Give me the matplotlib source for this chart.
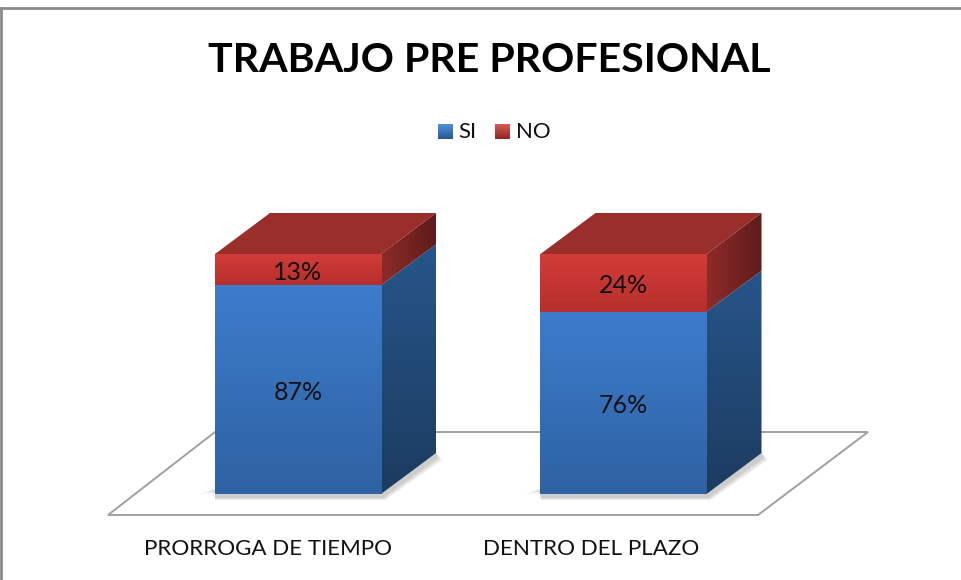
import numpy as np
import matplotlib
matplotlib.use("Agg")
import matplotlib.pyplot as plt
from matplotlib.patches import Polygon
from matplotlib.colors import to_rgb

categories = ["PRORROGA DE TIEMPO", "DENTRO DEL PLAZO"]
si_values = [87, 76]
no_values = [13, 24]
series_names = ["SI", "NO"]

W, H = 961, 580
plt.rcParams["font.family"] = ["Lato", "DejaVu Sans"]

fig = plt.figure(figsize=(W / 100, H / 100), dpi=100, facecolor="white")

# full figure axes in pixels, for frame / floor / legend
bg = fig.add_axes([0, 0, 1, 1], zorder=0)
bg.set_xlim(0, W)
bg.set_ylim(H, 0)
bg.axis("off")
bg.plot([0, 961], [8, 8], color="#8c8c8c", lw=2)
bg.plot([1, 1], [8, 580], color="#8c8c8c", lw=2)
bg.add_patch(Polygon([(108, 515), (215, 432), (868, 432), (758, 515)], fc="white", ec="#a0a0a0", lw=1.4))

# data axes: 100 % runs from 494 px to 254 px, bars 325.5 px apart
ax = fig.add_axes([135.25 / W, (H - 494) / H, 651 / W, 300 / H], zorder=1)
ax.axis("off")
ax.patch.set_alpha(0)

bar_w = 0.51
dx = 55 / 325.5
dy = 41 / 2.4


def shaded(x0, x1, y0, y1, c_a, c_b, horizontal=False, z=2):
    # gradient fill for a box, clipped by the caller
    n = np.linspace(0, 1, 64)
    a, b = np.array(to_rgb(c_a)), np.array(to_rgb(c_b))
    grad = a + (b - a) * n[:, None]
    img = grad[None, :, :] if horizontal else grad[:, None, :]
    return ax.imshow(img, extent=[x0, x1, y0, y1], origin="upper", aspect="auto", zorder=z,
                     interpolation="bilinear")


def side_face(x, bottom, top, c_a, c_b, horizontal=False):
    r = x + bar_w / 2
    poly = Polygon([(r, bottom), (r + dx, bottom + dy), (r + dx, top + dy), (r, top)], fc="none", ec="none")
    ax.add_patch(poly)
    im = shaded(r, r + dx, bottom, top + dy, c_a, c_b, horizontal)
    im.set_clip_path(poly)


for i, cat in enumerate(categories):
    si = si_values[i]
    no = no_values[i]
    total = si + no
    l = i - bar_w / 2
    r = i + bar_w / 2
    # soft ground shadow, a few see-through layers
    cx = 298 + 325.5 * i
    for grow in [0, 2, 4]:
        bg.add_patch(Polygon([(cx - 84 - 3 * (grow + 1), 494), (cx - 83, 489), (cx - 83, 498 + grow / 2),
                              (cx + 85 + grow / 2, 498 + grow / 2), (cx + 140 + grow, 458 + grow / 2),
                              (cx + 138, 452)],
                             fc="#707070", ec="none", alpha=0.13))
    # sides
    side_face(i, 0, si, "#27558a", "#1c3c60")
    side_face(i, si, total, "#8e2b29", "#5e1c1a", horizontal=True)
    # top
    ax.add_patch(Polygon([(l, total), (r, total), (r + dx, total + dy), (l + dx, total + dy)],
                         fc="#992e2b", ec="none", zorder=3))
    # front
    for bottom, val, c_a, c_b in [(0, si, "#3d7ccc", "#2e62a3"), (si, no, "#d43c38", "#b52f2c")]:
        patch = ax.bar(i, val, bar_w, bottom=bottom, color="none", zorder=4)[0]
        im = shaded(l, r, bottom, bottom + val, c_a, c_b, z=4)
        im.set_clip_path(patch)
    ax.text(i, si / 2 - 1.2, f"{si}%", ha="center", va="center", fontsize=18, color="#111111", zorder=5)
    ax.text(i, si + no / 2 - 1.2, f"{no}%", ha="center", va="center", fontsize=18, color="#111111", zorder=5)

# imshow resets the limits, so set them last
ax.set_xlim(-0.5, 1.5)
ax.set_ylim(0, 125)

# category labels
bg.text(267.5, 549, categories[0], ha="center", va="center", fontsize=16.1, color="#111111")
bg.text(591.5, 549, categories[1], ha="center", va="center", fontsize=16.1, color="#111111")

# title
bg.text(489, 60, "TRABAJO PRE PROFESIONAL", ha="center", va="center", fontsize=29.6, fontweight="bold", color="black")

# legend
leg = fig.add_axes([0, 0, 1, 1], zorder=2)
leg.set_xlim(0, W)
leg.set_ylim(H, 0)
leg.axis("off")
leg.patch.set_alpha(0)
for x0, name, c_a, c_b in [(438, series_names[0], "#4f93dd", "#27588f"), (495, series_names[1], "#dc5a55", "#8e2523")]:
    p = Polygon([(x0, 124), (x0 + 15, 124), (x0 + 15, 139), (x0, 139)], fc="none", ec="none")
    leg.add_patch(p)
    n = np.linspace(0, 1, 32)
    a, b = np.array(to_rgb(c_a)), np.array(to_rgb(c_b))
    im = leg.imshow((a + (b - a) * n[:, None])[:, None, :], extent=[x0, x0 + 15, 139, 124], aspect="auto")
    im.set_clip_path(p)
    leg.text(x0 + 20.5, 131.5, name, ha="left", va="center", fontsize=16, color="#111111")
leg.set_xlim(0, W)
leg.set_ylim(H, 0)

fig.savefig("out.png", dpi=100)
